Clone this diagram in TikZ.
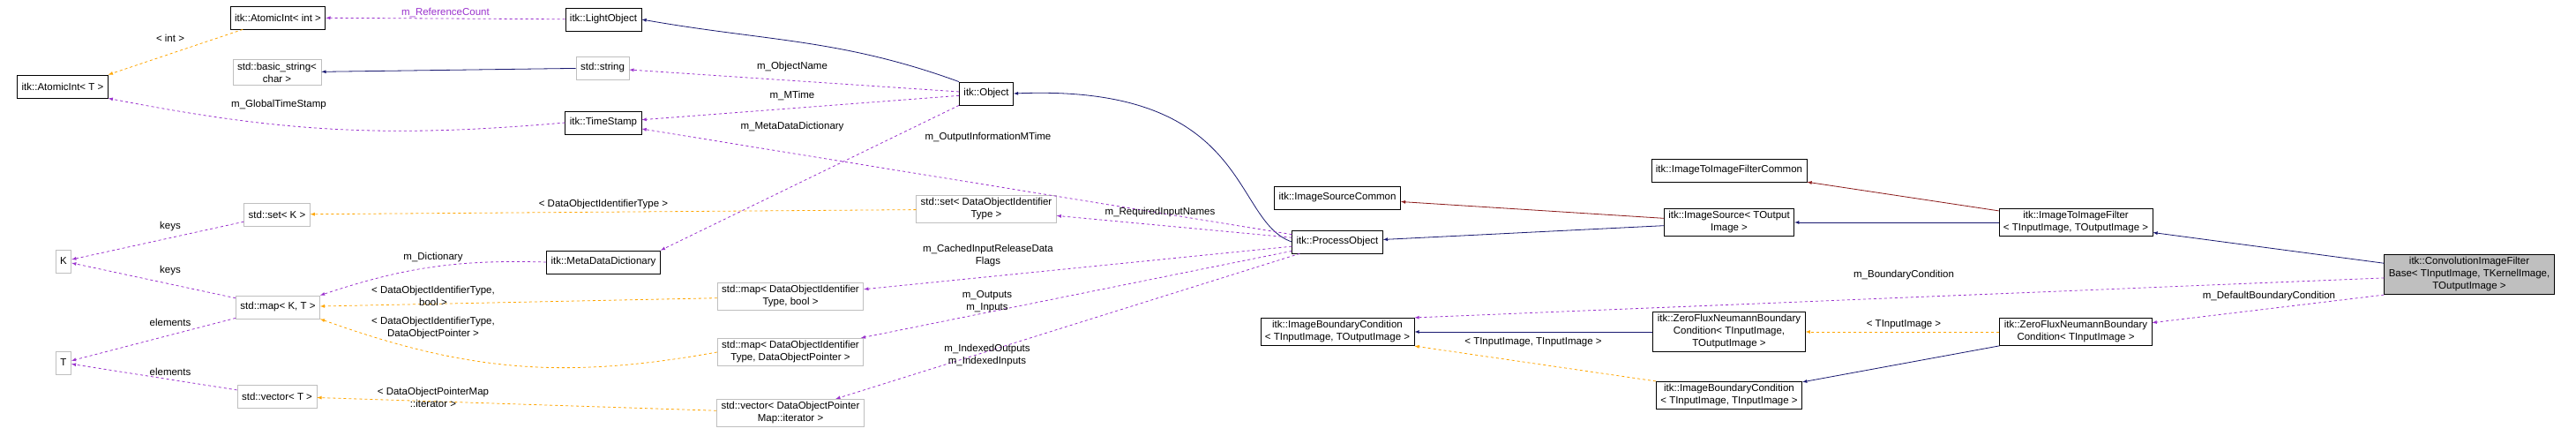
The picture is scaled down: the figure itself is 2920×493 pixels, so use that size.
\documentclass[tikz,border=0pt]{standalone}
\usepackage{fontspec}
\setmainfont{Liberation Sans}
\usetikzlibrary{arrows}
\definecolor{inhcol}{HTML}{191970}
\definecolor{privcol}{HTML}{8B1A1A}
\definecolor{usecol}{HTML}{9A32CD}
\definecolor{tplcol}{HTML}{FFA500}
\begin{document}
\begin{tikzpicture}[
        x=1pt,y=-1pt,
        every node/.style={font=\fontsize{11.5}{14}\selectfont},
        every path/.style={thick},
        cls/.style={draw=black,fill=white,align=center,inner xsep=5pt,minimum height=26pt},
        ext/.style={cls,draw=gray!50},
        inh/.style={inhcol,-latex},
        priv/.style={privcol,-latex},
        use/.style={usecol,dashed,-latex},
        tpl/.style={tplcol,dashed,-latex},
        lbl/.style={align=center,inner sep=1pt}
    ]
    \useasboundingbox (0,0) rectangle (2920,493);

    % classes
    \node [cls] (aint) at (315,20) {itk::AtomicInt< int >};
    \node [cls] (light) at (684,22) {itk::LightObject};
    \node [cls] (atom) at (71,98) {itk::AtomicInt< T >};
    \node [ext] (bstr) at (314,82) {std::basic\_string<\\char >};
    \node [ext] (str) at (683,77) {std::string};
    \node [cls] (stamp) at (684,139) {itk::TimeStamp};
    \node [cls] (obj) at (1118,106) {itk::Object};
    \node [ext] (setk) at (314,243) {std::set< K >};
    \node [ext] (setid) at (1118,237) {std::set< DataObjectIdentifier\\Type >};
    \node [ext] (kk) at (72,296) {K};
    \node [ext] (tt) at (72,411) {T};
    \node [ext] (mapkt) at (315,348) {std::map< K, T >};
    \node [ext] (vect) at (314,449) {std::vector< T >};
    \node [cls] (meta) at (684,297) {itk::MetaDataDictionary};
    \node [ext] (mapb) at (896,336) {std::map< DataObjectIdentifier\\Type, bool >};
    \node [ext] (mapp) at (896,399) {std::map< DataObjectIdentifier\\Type, DataObjectPointer >};
    \node [ext] (vecp) at (896,468) {std::vector< DataObjectPointer\\Map::iterator >};
    \node [cls] (proc) at (1516,274) {itk::ProcessObject};
    \node [cls] (srccom) at (1516,224) {itk::ImageSourceCommon};
    \node [cls] (filtcom) at (1960,193) {itk::ImageToImageFilterCommon};
    \node [cls] (src) at (1960,252) {itk::ImageSource< TOutput\\Image >};
    \node [cls] (bcio) at (1516,376) {itk::ImageBoundaryCondition\\< TInputImage, TOutputImage >};
    \node [cls] (zfio) at (1960,376) {itk::ZeroFluxNeumannBoundary\\Condition< TInputImage,\\TOutputImage >};
    \node [cls] (bcii) at (1960,448) {itk::ImageBoundaryCondition\\< TInputImage, TInputImage >};
    \node [cls] (filt) at (2353,252) {itk::ImageToImageFilter\\< TInputImage, TOutputImage >};
    \node [cls] (zfi) at (2353,376) {itk::ZeroFluxNeumannBoundary\\Condition< TInputImage >};
    \node [cls,fill=gray!50] (conv) at (2799,311) {itk::ConvolutionImageFilter\\Base< TInputImage, TKernelImage,\\TOutputImage >};

    % inheritance
    \draw [inh] (obj.north west) to[out=160,in=-10] (light.east);
    \draw [inh] (str) -- (bstr);
    \draw [inh] (proc.west) .. controls (1395,250) and (1420,95) .. (obj.east);
    \draw [inh] (src) -- (proc);
    \draw [inh] (filt) -- (src);
    \draw [inh] (conv) -- (filt);
    \draw [inh] (zfio) -- (bcio);
    \draw [inh] (zfi) -- (bcii);
    \draw [priv] (src) -- (srccom);
    \draw [priv] (filt) -- (filtcom);

    % members
    \draw [use] (light) -- node [lbl,above] {m\_ReferenceCount} (aint);
    \draw [use] (obj) -- (str);
    \draw [use] (obj) -- (stamp);
    \draw [use] (stamp.west) to[bend left=8] (atom.south east);
    \draw [use] (proc) -- (stamp);
    \draw [use] (obj.south west) -- (meta.north east);
    \draw [use] (proc) -- (setid);
    \draw [use] (proc) -- (mapb);
    \draw [use] (proc) -- (mapp);
    \draw [use] (proc) -- (vecp);
    \draw [use] (meta.west) to[bend right=10] (mapkt.north east);
    \draw [use] (setk) -- (kk);
    \draw [use] (mapkt) -- (kk);
    \draw [use] (mapkt) -- (tt);
    \draw [use] (vect) -- (tt);
    \draw [use] (conv) -- (bcio.north east);
    \draw [use] (conv.south west) -- (zfi);

    % templates
    \draw [tpl] (aint) -- (atom.north east);
    \draw [tpl] (setid) -- (setk);
    \draw [tpl] (mapb) -- (mapkt);
    \draw [tpl] (mapp.west) to[bend left=15] (mapkt.south east);
    \draw [tpl] (vecp) -- (vect);
    \draw [tpl] (zfi) -- (zfio);
    \draw [tpl] (bcii.north west) -- (bcio.south east);

    % labels
    \node [lbl] (l1) at (193,43) {< int >};
    \node [lbl] (l2) at (898,76) {m\_ObjectName};
    \node [lbl] (l3) at (898,108) {m\_MTime};
    \node [lbl] (l4) at (316,119) {m\_GlobalTimeStamp};
    \node [lbl] (l5) at (898,144) {m\_MetaDataDictionary};
    \node [lbl] (l6) at (1120,156) {m\_OutputInformationMTime};
    \node [lbl] (l7) at (684,232) {< DataObjectIdentifierType >};
    \node [lbl] (l8) at (193,257) {keys};
    \node [lbl] (l9) at (193,307) {keys};
    \node [lbl] (l10) at (491,292) {m\_Dictionary};
    \node [lbl] (l11) at (491,335) {< DataObjectIdentifierType,\\bool >};
    \node [lbl] (l12) at (491,372) {< DataObjectIdentifierType,\\DataObjectPointer >};
    \node [lbl] (l13) at (193,365) {elements};
    \node [lbl] (l14) at (193,421) {elements};
    \node [lbl] (l15) at (491,450) {< DataObjectPointerMap\\::iterator >};
    \node [lbl] (l16) at (1315,241) {m\_RequiredInputNames};
    \node [lbl] (l17) at (1120,290) {m\_CachedInputReleaseData\\Flags};
    \node [lbl] (l18) at (1119,342) {m\_Outputs\\m\_Inputs};
    \node [lbl] (l19) at (1119,403) {m\_IndexedOutputs\\m\_IndexedInputs};
    \node [lbl] (l20) at (1738,388) {< TInputImage, TInputImage >};
    \node [lbl] (l21) at (2158,312) {m\_BoundaryCondition};
    \node [lbl] (l22) at (2572,336) {m\_DefaultBoundaryCondition};
    \node [lbl] (l23) at (2158,368) {< TInputImage >};
\end{tikzpicture}
\end{document}
